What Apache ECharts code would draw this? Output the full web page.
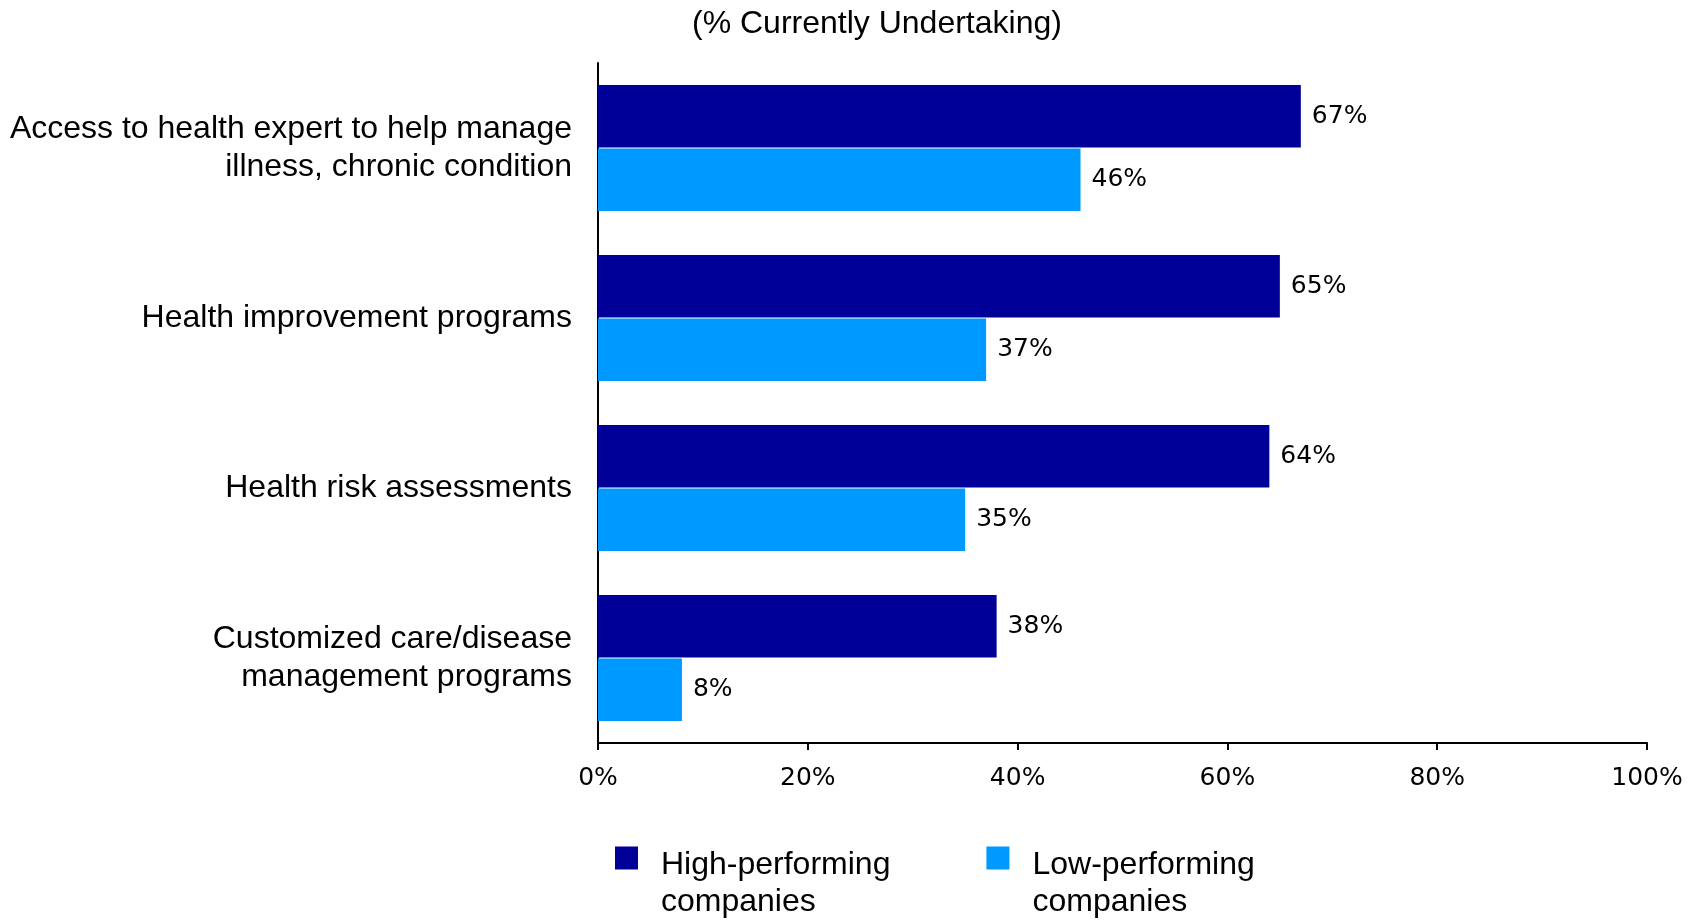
<!DOCTYPE html>
<html>
<head>
<meta charset="utf-8">
<title>Currently Undertaking</title>
<script src="https://cdn.jsdelivr.net/npm/echarts@6/dist/echarts.min.js"></script>
<style>
  html, body { margin: 0; padding: 0; background: #fff; }
  #chart { width: 1704px; height: 922px; }
</style>
</head>
<body>
<div id="chart"></div>
<script>
// data
var categories = [
    'Access to health expert to help manage\nillness, chronic condition',
    'Health improvement programs',
    'Health risk assessments',
    'Customized care/disease\nmanagement programs'
];
var highPerforming = [67, 65, 64, 38];
var lowPerforming = [46, 37, 35, 8];
var seriesNames = ['High-performing companies', 'Low-performing companies'];
var xTicks = { min: 0, max: 100, interval: 20 };

var labelFont = 'DejaVu Sans';
var textFont = '"Liberation Sans", Arial, sans-serif';

// legend text: two lines, first one level with the square
function legendText(name) {
    var words = name.split(' ');
    return '{s| }\n{a|' + words[0] + '}\n{a|' + words.slice(1).join(' ') + '}';
}

var option = {
    animation: false,
    backgroundColor: '#fff',
    title: {
        text: '(% Currently Undertaking)',
        left: 692,
        top: 8,
        padding: 0,
        textStyle: {
            fontFamily: textFont,
            fontSize: 32,
            fontWeight: 'normal',
            color: '#000'
        }
    },
    grid: {
        left: 598,
        right: 57,
        top: 63,
        bottom: 179
    },
    legend: {
        data: seriesNames,
        left: 615,
        top: 805,
        padding: 0,
        icon: 'rect',
        itemWidth: 23,
        itemHeight: 23,
        itemGap: 96,
        formatter: legendText,
        textStyle: {
            fontFamily: textFont,
            fontSize: 32,
            color: '#000',
            padding: [0, 0, 0, 18],
            rich: {
                s: { fontFamily: textFont, fontSize: 32, lineHeight: 52 },
                a: { fontFamily: textFont, fontSize: 32, lineHeight: 37, color: '#000' }
            }
        }
    },
    xAxis: {
        type: 'value',
        min: xTicks.min,
        max: xTicks.max,
        interval: xTicks.interval,
        splitLine: { show: false },
        axisLine: { show: true, lineStyle: { color: '#000', width: 2 } },
        axisTick: { show: true, length: 7, lineStyle: { color: '#000', width: 2 } },
        axisLabel: {
            formatter: '{value}%',
            margin: 23,
            fontFamily: labelFont,
            fontSize: 25,
            color: '#000'
        }
    },
    yAxis: {
        type: 'category',
        inverse: true,
        data: categories,
        axisLine: { show: true, lineStyle: { color: '#000', width: 2 } },
        axisTick: { show: false },
        axisLabel: {
            margin: 26,
            fontFamily: textFont,
            fontSize: 32,
            lineHeight: 38,
            color: '#000',
            align: 'right'
        }
    },
    series: [
        {
            name: seriesNames[0],
            type: 'bar',
            data: highPerforming,
            barCategoryGap: '26%',
            barGap: '2%',
            itemStyle: { color: '#000099' },
            label: {
                show: true,
                position: 'right',
                distance: 11,
                formatter: '{c}%',
                fontFamily: labelFont,
                fontSize: 25,
                color: '#000'
            }
        },
        {
            name: seriesNames[1],
            type: 'bar',
            data: lowPerforming,
            barCategoryGap: '26%',
            barGap: '2%',
            itemStyle: { color: '#0099FF' },
            label: {
                show: true,
                position: 'right',
                distance: 11,
                formatter: '{c}%',
                fontFamily: labelFont,
                fontSize: 25,
                color: '#000'
            }
        }
    ]
};

var chart = echarts.init(document.getElementById('chart'));
chart.setOption(option);
</script>
</body>
</html>
